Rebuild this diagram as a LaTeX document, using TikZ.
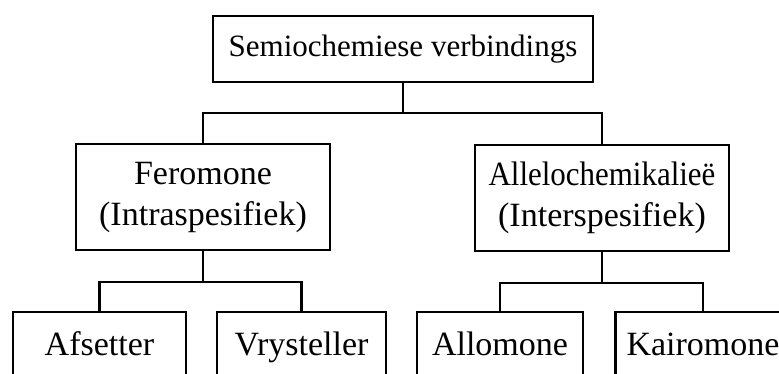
\documentclass[tikz,border=0pt]{standalone}
\usepackage{fontspec}
\setmainfont{Liberation Serif}
\begin{document}
\begin{tikzpicture}[x=1pt,y=-1pt,
  box/.style={draw, line width=2.4pt, inner sep=0pt, align=center, anchor=center},
  link/.style={draw, line width=2.4pt},
  big/.style={font=\fontsize{34}{41}\selectfont},
  one/.style={text height=26pt, text depth=6pt},
  topfont/.style={font=\fontsize{31}{36}\selectfont}]
\useasboundingbox (0,0) rectangle (779,373);
\clip (0,0) rectangle (779,373);
\fill[white] (0,0) rectangle (779,373);
\node[box, topfont, minimum width=380pt, minimum height=66pt] (top) at (403,49) {Semiochemiese verbindings};
\node[box, big, minimum width=254pt, minimum height=106pt] (fer) at (203,197) {Feromone\\(Intraspesifiek)};
\node[box, big, minimum width=254pt, minimum height=106pt] (all) at (602,198) {\scalebox{0.91}[1]{Allelochemikalieë}\\(Interspesifiek)};
\node[box, big, one, minimum width=173pt, minimum height=66pt] (afs) at (99.5,345) {Afsetter};
\node[box, big, one, minimum width=169pt, minimum height=66pt] (vry) at (301.5,345) {Vrysteller};
\node[box, big, one, minimum width=166pt, minimum height=66pt] (allo) at (500,345) {Allomone};
\node[box, big, one, minimum width=175pt, minimum height=66pt] (kai) at (703,345) {Kairomone};
\coordinate (j1) at (403,113);
\coordinate (j2) at (203,282);
\coordinate (j3) at (602,283);
\draw[link] (top.south) -- (j1);
\draw[link] (fer.north) |- (j1) -| (all.north);
\draw[link] (fer.south) -- (j2);
\draw[link] (afs.north) |- (j2) -| (vry.north);
\draw[link] (all.south) -- (j3);
\draw[link] (allo.north) |- (j3) -| (kai.north);
\end{tikzpicture}
\end{document}
